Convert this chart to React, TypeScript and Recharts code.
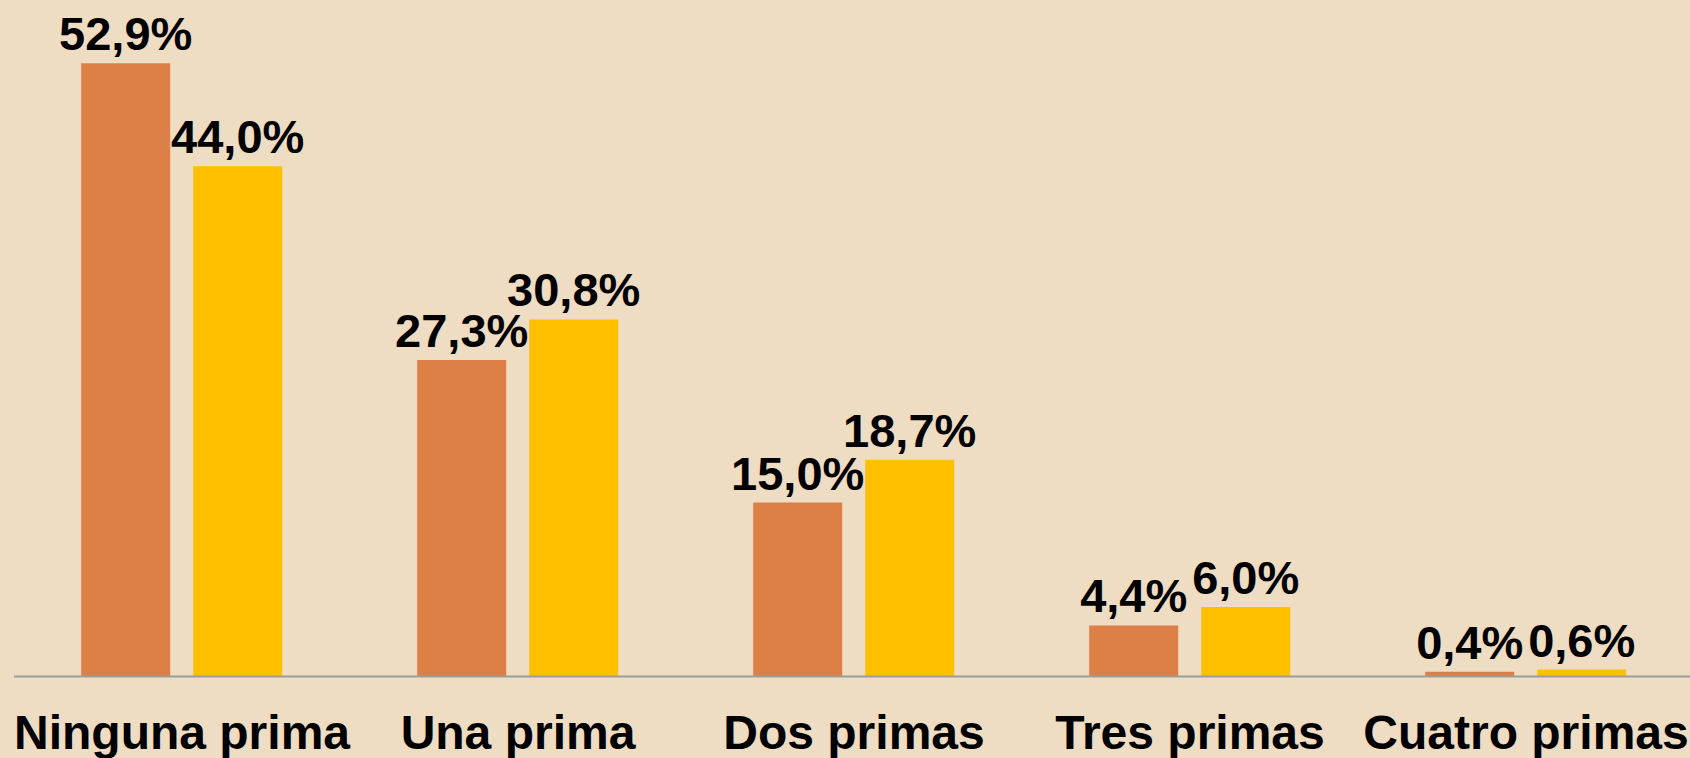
import React from "react";
import { BarChart, Bar, XAxis, YAxis, LabelList } from "recharts";

const categories = ["Ninguna prima", "Una prima", "Dos primas", "Tres primas", "Cuatro primas"];
const seriesA = [52.9, 27.3, 15.0, 4.4, 0.4];
const seriesB = [44.0, 30.8, 18.7, 6.0, 0.6];

const data = categories.map((name, i) => ({ name, a: seriesA[i], b: seriesB[i] }));

const FONT = '"Liberation Sans", Arial, Helvetica, sans-serif';

const fmt = (v: number) => v.toFixed(1).replace(".", ",") + "%";

const ValueLabel = (props: any) => {
  const { x, y, width, value } = props;
  return (
    <text
      x={Number(x) + Number(width) / 2}
      y={Number(y) - 13}
      textAnchor="middle"
      fontFamily={FONT}
      fontWeight="bold"
      fontSize={47}
      fill="#000"
    >
      {fmt(Number(value))}
    </text>
  );
};

const CatTick = (props: any) => {
  const { x, y, payload } = props;
  return (
    <text
      x={x}
      y={Number(y) + 72.5}
      textAnchor="middle"
      fontFamily={FONT}
      fontWeight="bold"
      fontSize={48}
      fill="#000"
    >
      {payload.value}
    </text>
  );
};

export default function App() {
  return (
    <div
      style={{
        position: "absolute",
        left: 0,
        top: 0,
        width: 1690,
        height: 758,
        overflow: "hidden",
        background: "#EEDCC3",
      }}
    >
      <BarChart
        width={1694}
        height={758}
        data={data}
        margin={{ top: 4, right: 0, bottom: 0, left: 14 }}
        barCategoryGap="20%"
        barGap={23}
      >
        <XAxis
          dataKey="name"
          axisLine={{ stroke: "#9c9c9c", strokeWidth: 2 }}
          tickLine={false}
          tickSize={0}
          tickMargin={0}
          height={81.5}
          interval={0}
          tick={<CatTick />}
        />
        <YAxis hide domain={[0, 58]} allowDataOverflow />
        <Bar dataKey="a" fill="#DD8047" isAnimationActive={false}>
          <LabelList dataKey="a" content={<ValueLabel />} />
        </Bar>
        <Bar dataKey="b" fill="#FFC000" isAnimationActive={false}>
          <LabelList dataKey="b" content={<ValueLabel />} />
        </Bar>
      </BarChart>
    </div>
  );
}
